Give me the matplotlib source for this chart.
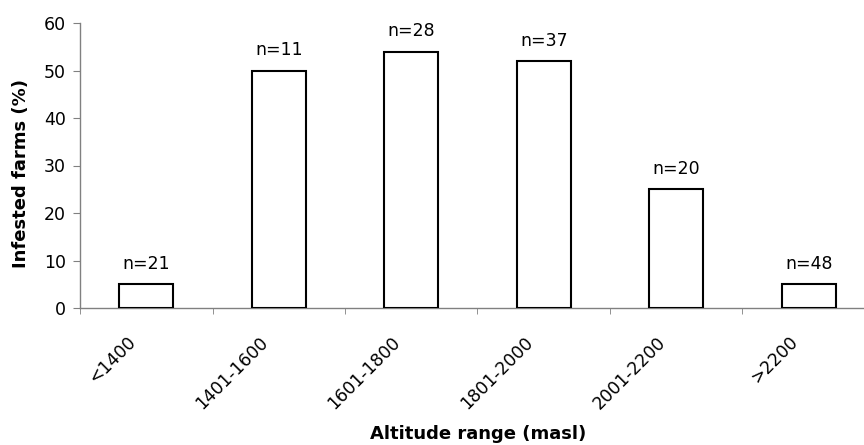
import matplotlib
matplotlib.use("Agg")
import matplotlib.pyplot as plt
import matplotlib.transforms as mtransforms
import numpy as np

plt.rcParams['font.family'] = ['DejaVu Sans']

categories = ['<1400', '1401-1600', '1601-1800', '1801-2000', '2001-2200', '>2200']
infested = [5, 50, 54, 52, 25, 5]
n_labels = ['n=21', 'n=11', 'n=28', 'n=37', 'n=20', 'n=48']

fig = plt.figure(figsize=(8.64, 4.45), dpi=100)
# right edge of the axes goes past the figure, like the cropped original
ax = fig.add_axes([80/864, 137/445, 795/864, 285/445])

x = np.arange(len(categories))
ax.bar(x, infested, width=0.41, color='white', edgecolor='black', linewidth=1.5, zorder=3)

for xi, v, lab in zip(x, infested, n_labels):
    ax.annotate(lab, (xi, v), xytext=(0, 11), textcoords='offset points',
                ha='center', va='baseline', fontsize=12.5)

ax.set_xlim(-0.5, len(categories) - 0.5)
ax.set_ylim(0, 60)
ax.set_yticks(range(0, 61, 10))

ax.set_xticks(x)
ax.set_xticks(np.arange(-0.5, len(categories), 1.0), minor=True)
ax.tick_params(axis='x', which='major', length=0, pad=18)
ax.tick_params(axis='x', which='minor', length=4, color='#808080', direction='out')
ax.tick_params(axis='y', length=5, color='#808080', labelsize=12.5, pad=5)

ax.set_xticklabels(categories, rotation=45, ha='right', va='top',
                   rotation_mode='anchor', fontsize=12.5)
# move the slanted labels left so they end under the category centre
shift = mtransforms.ScaledTranslation(-20/100, 0, fig.dpi_scale_trans)
for t in ax.get_xticklabels():
    t.set_transform(t.get_transform() + shift)

for s in ['top', 'right']:
    ax.spines[s].set_visible(False)
for s in ['left', 'bottom']:
    ax.spines[s].set_color('#808080')
    ax.spines[s].set_linewidth(1.0)

fig.text(21/864, 1 - 173/445, 'Infested farms (%)', rotation=90, ha='center', va='center',
         fontsize=13, fontweight='bold')
fig.text(478/864, 1 - 434/445, 'Altitude range (masl)', ha='center', va='center',
         fontsize=13, fontweight='bold')

fig.savefig('out.png', dpi=100)
